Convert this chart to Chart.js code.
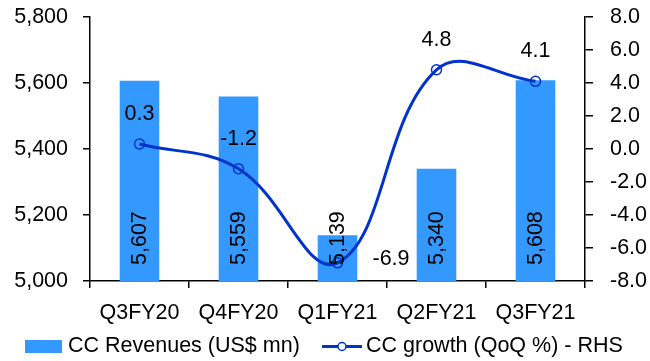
<!DOCTYPE html>
<html><head><meta charset="utf-8">
<script src="https://cdn.jsdelivr.net/npm/chart.js@4/dist/chart.umd.min.js"></script>
<style>html,body{margin:0;padding:0;background:#fff}canvas{display:block}</style>
</head><body>
<canvas id="c" width="650" height="361"></canvas>
<script>
const categories = ["Q3FY20","Q4FY20","Q1FY21","Q2FY21","Q3FY21"];
const revenues = [5607, 5559, 5139, 5340, 5608];
const growth = [0.3, -1.2, -6.9, 4.8, 4.1];
const leftTicks = [5000, 5200, 5400, 5600, 5800];
const rightTicks = [-8, -6, -4, -2, 0, 2, 4, 6, 8];

const FONT = "'Liberation Sans', Arial, sans-serif";
const FS = 21.5;
const BAR = "#3399FF";
const LINE = "#0033CC";

const labelPlugin = {
  id: "labels",
  afterDatasetsDraw(chart) {
    const ctx = chart.ctx;
    ctx.save();
    ctx.fillStyle = "#000";
    ctx.font = FS + "px " + FONT;
    const barMeta = chart.getDatasetMeta(0);
    barMeta.data.forEach((el, i) => {
      ctx.save();
      ctx.translate(el.x, chart.chartArea.bottom - 16);
      ctx.rotate(-Math.PI / 2);
      ctx.textAlign = "left";
      ctx.textBaseline = "middle";
      ctx.fillText(revenues[i].toLocaleString("en-US"), 0, 1);
      ctx.restore();
    });
    const lineMeta = chart.getDatasetMeta(1);
    lineMeta.data.forEach((el, i) => {
      const t = growth[i].toFixed(1);
      ctx.textBaseline = "middle";
      if (i === 2) {
        ctx.textAlign = "left";
        ctx.fillText(t, el.x + 35, el.y - 4);
      } else {
        ctx.textAlign = "center";
        ctx.fillText(t, el.x, el.y - 30);
      }
    });
    ctx.restore();
  }
};

const legendPlugin = {
  id: "customLegend",
  afterDraw(chart) {
    const ctx = chart.ctx;
    ctx.save();
    const y = 346.5;
    ctx.fillStyle = BAR;
    ctx.fillRect(25, y - 6.5, 37, 13);
    ctx.fillStyle = "#000";
    ctx.font = FS + "px " + FONT;
    ctx.textAlign = "left";
    ctx.textBaseline = "middle";
    ctx.fillText("CC Revenues (US$ mn)", 68, y);
    ctx.strokeStyle = LINE;
    ctx.lineWidth = 3;
    ctx.beginPath();
    ctx.moveTo(322, y); ctx.lineTo(362, y); ctx.stroke();
    ctx.lineWidth = 1.5;
    ctx.fillStyle = "#fff";
    ctx.beginPath(); ctx.arc(342, y, 4, 0, Math.PI * 2); ctx.fill(); ctx.stroke();
    ctx.fillStyle = "#000";
    ctx.fillText("CC growth (QoQ %) - RHS", 366, y);
    ctx.restore();
  }
};

function fixV(width) {
  return function (s) { s.width = width; s.paddingTop = 0; s.paddingBottom = 0; };
}

new Chart(document.getElementById("c"), {
  data: {
    labels: categories,
    datasets: [
      {
        type: "bar", label: "CC Revenues (US$ mn)", data: revenues,
        backgroundColor: BAR, yAxisID: "y", order: 2,
        barPercentage: 0.4, categoryPercentage: 1.0
      },
      {
        type: "line", label: "CC growth (QoQ %) - RHS", data: growth,
        borderColor: LINE, borderWidth: 3, tension: 0.4,
        pointRadius: 5, pointBorderWidth: 1.5, pointBackgroundColor: "rgba(0,0,0,0)",
        pointBorderColor: LINE, yAxisID: "y1", order: 1
      }
    ]
  },
  options: {
    responsive: false, animation: false,
    layout: { padding: { top: 17, left: 0, right: 0, bottom: 0 } },
    plugins: { legend: { display: false }, tooltip: { enabled: false } },
    scales: {
      x: {
        offset: true,
        grid: { offset: true, drawOnChartArea: false, tickLength: 7, tickColor: "#000", lineWidth: 1.5 },
        border: { color: "#000", width: 1.5 },
        ticks: { color: "#000", font: { family: FONT, size: FS }, padding: 12, maxRotation: 0 },
        afterFit(s) { s.height = 80; s.paddingLeft = 0; s.paddingRight = 0; }
      },
      y: {
        position: "left", min: 5000, max: 5800,
        afterBuildTicks(s) { s.ticks = leftTicks.map(v => ({ value: v })); },
        grid: { drawOnChartArea: false, tickLength: 7, tickColor: "#000", lineWidth: 1.5 },
        border: { color: "#000", width: 1.5 },
        ticks: { color: "#000", font: { family: FONT, size: FS }, padding: 15,
          callback: v => v.toLocaleString("en-US") },
        afterFit: fixV(90)
      },
      y1: {
        position: "right", min: -8, max: 8,
        afterBuildTicks(s) { s.ticks = rightTicks.map(v => ({ value: v })); },
        grid: { drawOnChartArea: false, tickLength: 8, tickColor: "#000", lineWidth: 1.5 },
        border: { color: "#000", width: 1.5 },
        ticks: { color: "#000", font: { family: FONT, size: FS }, padding: 17,
          callback: v => v.toFixed(1) },
        afterFit: fixV(65)
      }
    }
  },
  plugins: [labelPlugin, legendPlugin]
});
</script>
</body></html>
